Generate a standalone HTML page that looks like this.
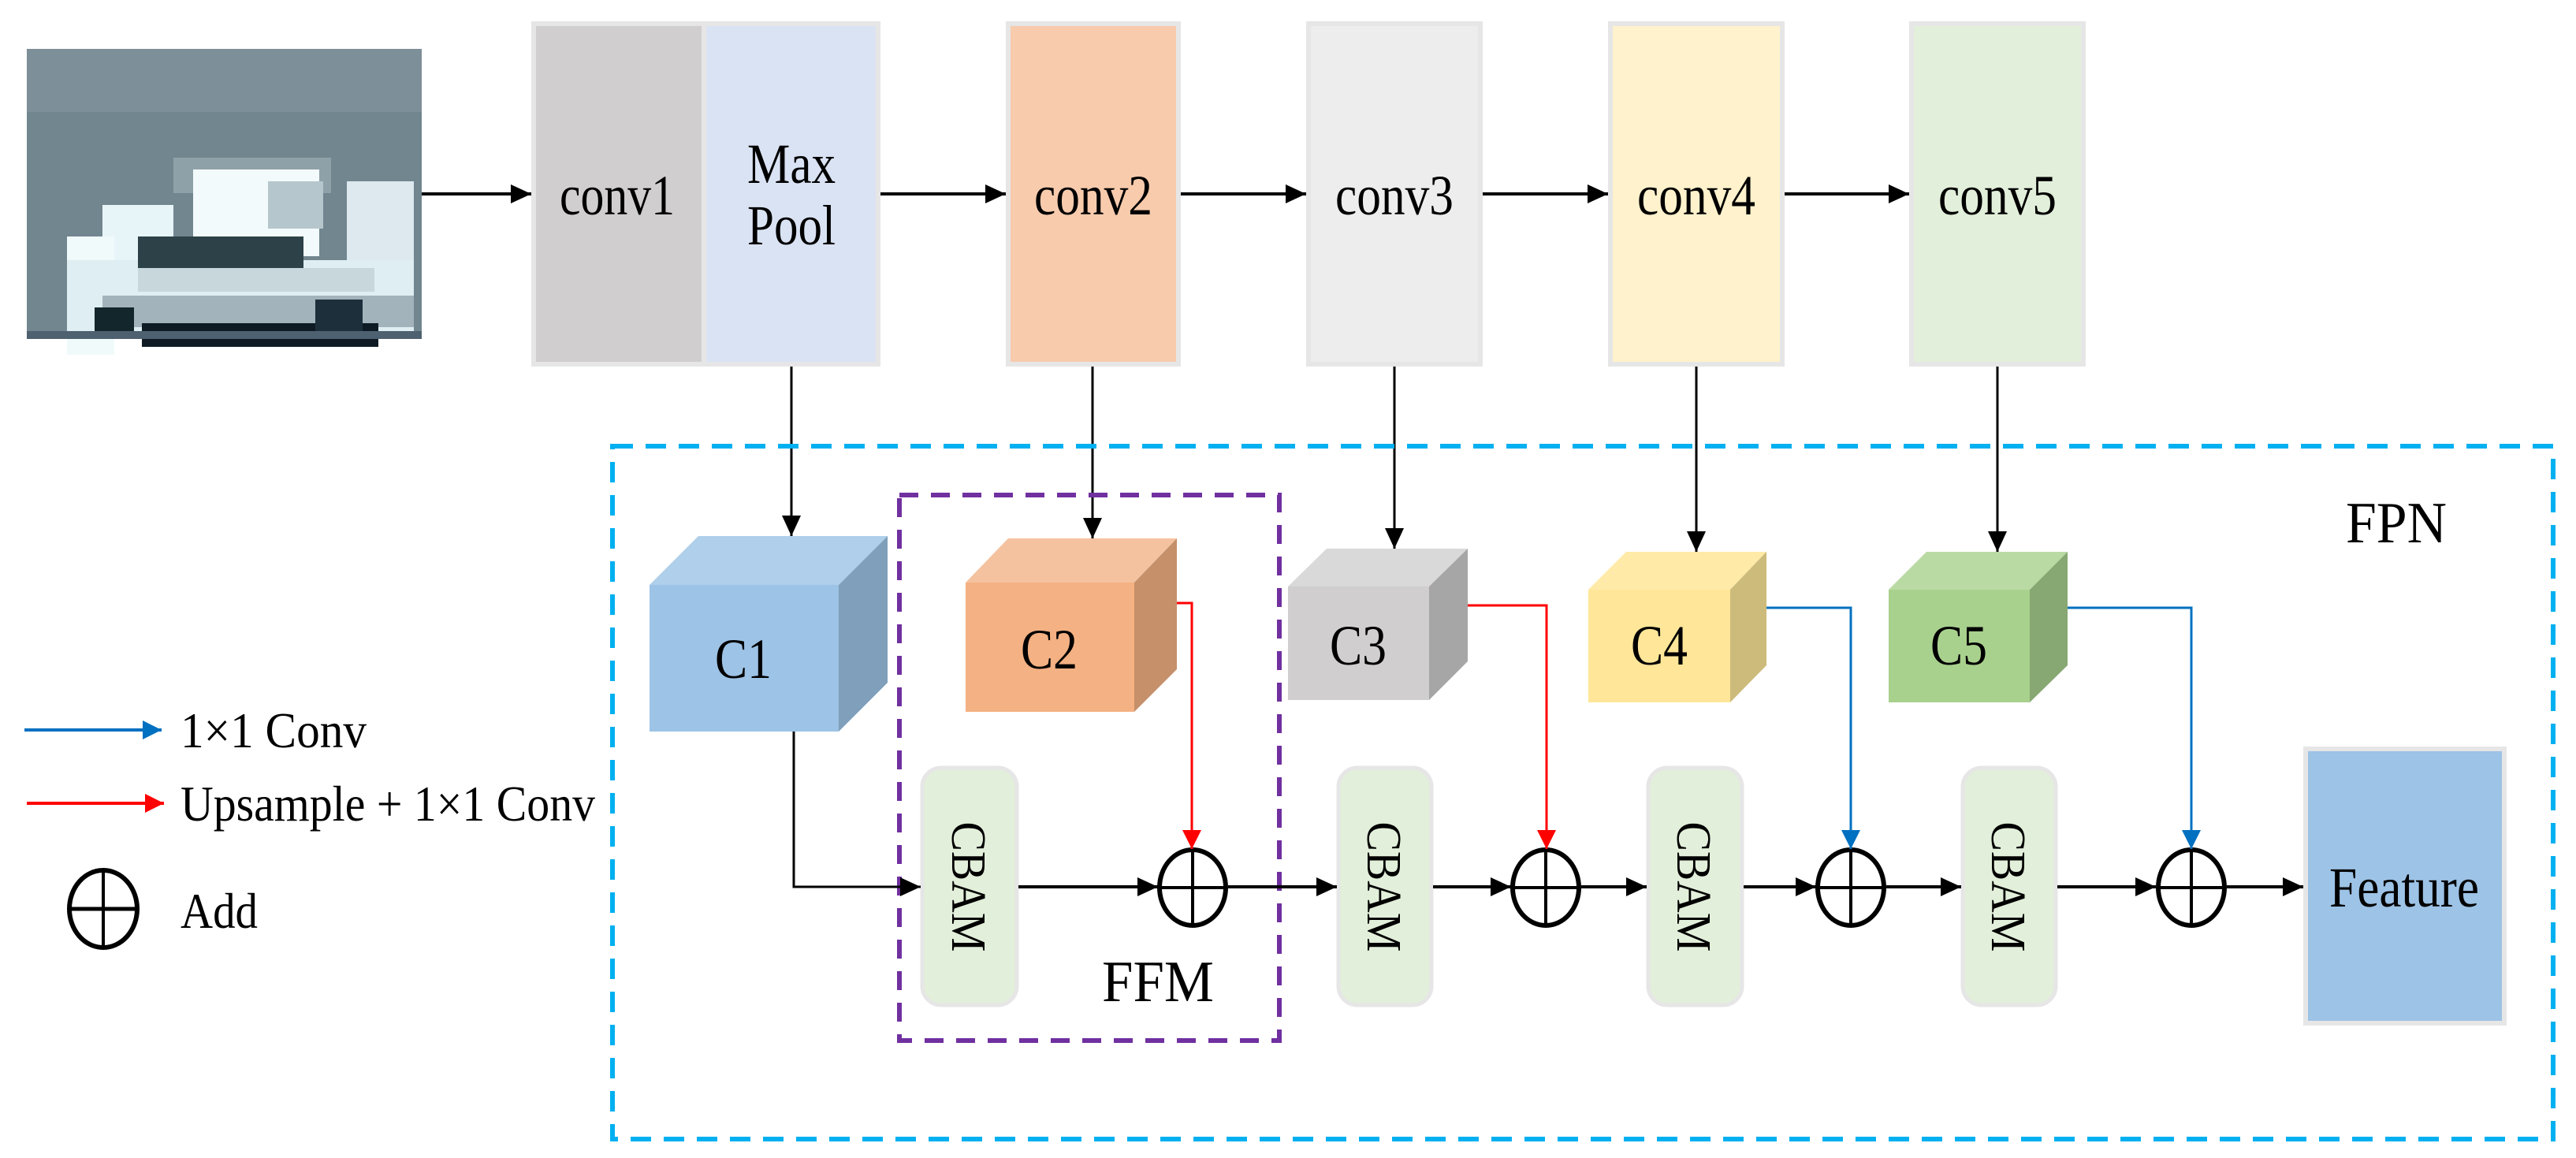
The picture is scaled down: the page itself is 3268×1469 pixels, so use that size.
<!DOCTYPE html>
<html><head><meta charset="utf-8"><style>
html,body{margin:0;padding:0;background:#fff;}
svg{display:block;}
text{font-family:"Liberation Serif",serif;fill:#000;}
</style></head><body>
<svg width="3268" height="1469" viewBox="0 0 3268 1469" xmlns="http://www.w3.org/2000/svg">
<defs>
<marker id="ak" markerWidth="26" markerHeight="24" refX="26" refY="12" orient="auto" markerUnits="userSpaceOnUse"><path d="M0,0 L26,12 L0,24 Z" fill="#000"/></marker>
<marker id="ar" markerWidth="24" markerHeight="24" refX="24" refY="12" orient="auto" markerUnits="userSpaceOnUse"><path d="M0,0 L24,12 L0,24 Z" fill="#ff0000"/></marker>
<marker id="ab" markerWidth="24" markerHeight="24" refX="24" refY="12" orient="auto" markerUnits="userSpaceOnUse"><path d="M0,0 L24,12 L0,24 Z" fill="#0070c0"/></marker>
</defs>

<!-- car image approximation -->
<rect x="34" y="62" width="501" height="368" fill="#71868f"/>
<rect x="34" y="62" width="501" height="80" fill="#7d8f99"/>
<rect x="220" y="200" width="200" height="45" fill="#8fa1a8"/>
<rect x="245" y="215" width="160" height="110" fill="#f3fafb"/>
<rect x="340" y="230" width="70" height="60" fill="#b5c6cc"/>
<rect x="440" y="230" width="85" height="140" fill="#dde9ef"/>
<rect x="130" y="260" width="90" height="110" fill="#e8f5f8"/>
<rect x="85" y="300" width="60" height="150" fill="#f0fafb"/>
<rect x="85" y="330" width="440" height="100" fill="#dfeef2"/>
<rect x="175" y="300" width="210" height="40" fill="#2c4248"/>
<rect x="175" y="340" width="300" height="30" fill="#c7d7dc"/>
<rect x="130" y="375" width="395" height="40" fill="#a2b3bb"/>
<rect x="120" y="390" width="50" height="40" fill="#13262b"/>
<rect x="180" y="410" width="300" height="30" fill="#0e1b25"/>
<rect x="400" y="380" width="60" height="40" fill="#1c2f3b"/>
<rect x="34" y="420" width="501" height="10" fill="#4e6170"/>

<!-- backbone blocks -->
<g stroke="#e6e6e6" stroke-width="6">
<rect x="677" y="30" width="216" height="432" fill="#d0cece"/>
<rect x="893" y="30" width="221" height="432" fill="#dae3f3"/>
<rect x="1279" y="30" width="216" height="432" fill="#f8cbad"/>
<rect x="1660" y="30" width="218" height="432" fill="#ededed"/>
<rect x="2043" y="30" width="218" height="432" fill="#fff2cc"/>
<rect x="2425" y="30" width="218" height="432" fill="#e2efda"/>
</g>
<g font-size="72" text-anchor="middle" lengthAdjust="spacingAndGlyphs">
<text x="783" y="272" textLength="146" lengthAdjust="spacingAndGlyphs">conv1</text>
<text x="1004" y="232" textLength="112" lengthAdjust="spacingAndGlyphs">Max</text>
<text x="1004" y="310" textLength="112" lengthAdjust="spacingAndGlyphs">Pool</text>
<text x="1387" y="272" textLength="150" lengthAdjust="spacingAndGlyphs">conv2</text>
<text x="1769" y="272" textLength="150" lengthAdjust="spacingAndGlyphs">conv3</text>
<text x="2152" y="272" textLength="150" lengthAdjust="spacingAndGlyphs">conv4</text>
<text x="2534" y="272" textLength="150" lengthAdjust="spacingAndGlyphs">conv5</text>
</g>

<!-- horizontal backbone arrows -->
<g stroke="#000" stroke-width="4" marker-end="url(#ak)">
<line x1="535" y1="246" x2="674" y2="246"/>
<line x1="1117" y1="246" x2="1276" y2="246"/>
<line x1="1498" y1="246" x2="1657" y2="246"/>
<line x1="1881" y1="246" x2="2040" y2="246"/>
<line x1="2264" y1="246" x2="2422" y2="246"/>
</g>
<!-- vertical arrows -->
<g stroke="#000" stroke-width="3" marker-end="url(#ak)">
<line x1="1004" y1="465" x2="1004" y2="680"/>
<line x1="1386" y1="465" x2="1386" y2="683"/>
<line x1="1769" y1="465" x2="1769" y2="696"/>
<line x1="2152" y1="465" x2="2152" y2="700"/>
<line x1="2534" y1="465" x2="2534" y2="700"/>
</g>

<!-- FPN box -->
<rect x="777" y="566" width="2462" height="879" fill="none" stroke="#00b0f0" stroke-width="6" stroke-dasharray="26 16"/>
<text x="3040" y="688" font-size="74" text-anchor="middle" textLength="128" lengthAdjust="spacingAndGlyphs">FPN</text>

<!-- FFM box -->
<rect x="1141" y="628" width="482" height="692" fill="none" stroke="#7030a0" stroke-width="6" stroke-dasharray="24 16"/>
<text x="1469" y="1270" font-size="74" text-anchor="middle" textLength="142" lengthAdjust="spacingAndGlyphs">FFM</text>

<!-- cubes -->
<polygon points="824,742 886,680 1126,680 1064,742" fill="#afcfea"/>
<polygon points="1064,742 1126,680 1126,866 1064,928" fill="#7f9fbb"/>
<rect x="824" y="742" width="240" height="186" fill="#9dc3e6"/>
<polygon points="1225,739 1279,683 1493,683 1439,739" fill="#f5c29f"/>
<polygon points="1439,739 1493,683 1493,849 1439,903" fill="#c5906a"/>
<rect x="1225" y="739" width="214" height="164" fill="#f4b183"/>
<polygon points="1634,744 1683,696 1862,696 1813,744" fill="#d9d9d9"/>
<polygon points="1813,744 1862,696 1862,839 1813,888" fill="#a6a6a6"/>
<rect x="1634" y="744" width="179" height="144" fill="#d0cece"/>
<polygon points="2015,748 2063,700 2241,700 2195,748" fill="#ffeaa8"/>
<polygon points="2195,748 2241,700 2241,844 2195,891" fill="#cdbb7b"/>
<rect x="2015" y="748" width="180" height="143" fill="#ffe699"/>
<polygon points="2396,748 2444,700 2623,700 2575,748" fill="#badaa4"/>
<polygon points="2575,748 2623,700 2623,844 2575,891" fill="#87a872"/>
<rect x="2396" y="748" width="179" height="143" fill="#a9d18e"/>
<g font-size="72" text-anchor="middle">
<text x="943" y="860" textLength="72" lengthAdjust="spacingAndGlyphs">C1</text>
<text x="1331" y="848" textLength="72" lengthAdjust="spacingAndGlyphs">C2</text>
<text x="1723" y="843" textLength="72" lengthAdjust="spacingAndGlyphs">C3</text>
<text x="2105" y="843" textLength="72" lengthAdjust="spacingAndGlyphs">C4</text>
<text x="2485" y="843" textLength="72" lengthAdjust="spacingAndGlyphs">C5</text>
</g>

<!-- CBAM boxes -->
<g fill="#e2efda" stroke="#e6e6e6" stroke-width="5">
<rect x="1170" y="974" width="120" height="301" rx="24"/>
<rect x="1698" y="974" width="118" height="301" rx="24"/>
<rect x="2091" y="974" width="119" height="301" rx="24"/>
<rect x="2490" y="974" width="118" height="301" rx="24"/>
</g>
<g font-size="62" text-anchor="middle">
<text transform="translate(1208,1125) rotate(90)" textLength="165" lengthAdjust="spacingAndGlyphs">CBAM</text>
<text transform="translate(1735,1125) rotate(90)" textLength="165" lengthAdjust="spacingAndGlyphs">CBAM</text>
<text transform="translate(2128,1125) rotate(90)" textLength="165" lengthAdjust="spacingAndGlyphs">CBAM</text>
<text transform="translate(2527,1125) rotate(90)" textLength="165" lengthAdjust="spacingAndGlyphs">CBAM</text>
</g>

<!-- Feature -->
<rect x="2925" y="950" width="252" height="348" fill="#9dc3e6" stroke="#e6e6e6" stroke-width="6"/>
<text x="3050" y="1150" font-size="72" text-anchor="middle" textLength="190" lengthAdjust="spacingAndGlyphs">Feature</text>

<!-- main flow -->
<g stroke="#000" stroke-width="4" fill="none" marker-end="url(#ak)">
<polyline points="1007,928 1007,1125 1168,1125" stroke-width="3"/>
<line x1="1292" y1="1125" x2="1469" y2="1125"/>
<line x1="1558" y1="1125" x2="1696" y2="1125"/>
<line x1="1818" y1="1125" x2="1917" y2="1125"/>
<line x1="2006" y1="1125" x2="2089" y2="1125"/>
<line x1="2212" y1="1125" x2="2304" y2="1125"/>
<line x1="2393" y1="1125" x2="2488" y2="1125"/>
<line x1="2610" y1="1125" x2="2735" y2="1125"/>
<line x1="2825" y1="1125" x2="2922" y2="1125"/>
</g>
<g fill="none" stroke="#000" stroke-width="6">
<ellipse cx="1513" cy="1126" rx="42" ry="48"/>
<ellipse cx="1961" cy="1126" rx="42" ry="48"/>
<ellipse cx="2348" cy="1126" rx="42" ry="48"/>
<ellipse cx="2780" cy="1126" rx="42" ry="48"/>
</g>
<g stroke="#000" stroke-width="4">
<line x1="1513" y1="1078" x2="1513" y2="1174"/><line x1="1471" y1="1126" x2="1555" y2="1126"/>
<line x1="1961" y1="1078" x2="1961" y2="1174"/><line x1="1919" y1="1126" x2="2003" y2="1126"/>
<line x1="2348" y1="1078" x2="2348" y2="1174"/><line x1="2306" y1="1126" x2="2390" y2="1126"/>
<line x1="2780" y1="1078" x2="2780" y2="1174"/><line x1="2738" y1="1126" x2="2822" y2="1126"/>
</g>

<g fill="none" stroke-width="3">
<polyline points="1493,765 1512,765 1512,1077" stroke="#ff0000" marker-end="url(#ar)"/>
<polyline points="1862,768 1962,768 1962,1077" stroke="#ff0000" marker-end="url(#ar)"/>
<polyline points="2241,771 2348,771 2348,1077" stroke="#0070c0" marker-end="url(#ab)"/>
<polyline points="2623,771 2780,771 2780,1077" stroke="#0070c0" marker-end="url(#ab)"/>
</g>

<!-- legend -->
<line x1="31" y1="926" x2="205" y2="926" stroke="#0070c0" stroke-width="4" marker-end="url(#ab)"/>
<text x="229" y="948" font-size="64" textLength="236" lengthAdjust="spacingAndGlyphs">1×1 Conv</text>
<line x1="34" y1="1019" x2="208" y2="1019" stroke="#ff0000" stroke-width="4" marker-end="url(#ar)"/>
<text x="229" y="1041" font-size="64" textLength="526" lengthAdjust="spacingAndGlyphs">Upsample + 1×1 Conv</text>
<ellipse cx="131" cy="1153" rx="43" ry="49" fill="none" stroke="#000" stroke-width="6"/>
<line x1="131" y1="1104" x2="131" y2="1202" stroke="#000" stroke-width="4"/>
<line x1="88" y1="1153" x2="174" y2="1153" stroke="#000" stroke-width="5"/>
<text x="229" y="1177" font-size="64" textLength="98" lengthAdjust="spacingAndGlyphs">Add</text>
</svg>
</body></html>
